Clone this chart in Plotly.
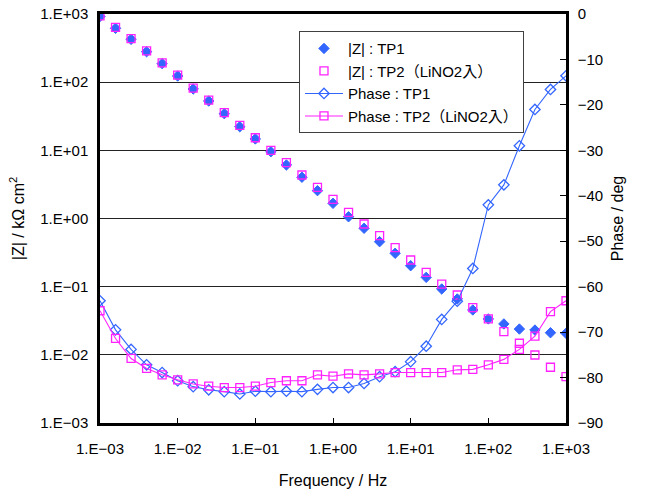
import plotly.graph_objects as go

# Measurement frequencies (Hz), 5 points per decade
freq = [0.001, 0.001585, 0.002512, 0.003981, 0.006310,
        0.01, 0.01585, 0.02512, 0.03981, 0.06310,
        0.1, 0.1585, 0.2512, 0.3981, 0.6310,
        1.0, 1.585, 2.512, 3.981, 6.310,
        10.0, 15.85, 25.12, 39.81, 63.10,
        100.0, 158.5, 251.2, 398.1, 631.0, 1000.0]

# Impedance modulus |Z| (kOhm cm2)
z_tp1 = [920, 617, 425, 280, 187, 123, 79.4, 52.9, 34.5, 22.2, 14.7, 9.55,
         6.10, 4.03, 2.56, 1.67, 1.06, 0.718, 0.457, 0.309, 0.203, 0.137,
         0.0925, 0.0660, 0.0455, 0.0336, 0.0284, 0.0239, 0.0231, 0.0211, 0.0207]
z_tp2 = [940, 635, 435, 287, 192, 127, 82.0, 54.5, 35.8, 23.2, 15.3, 10.0,
         6.59, 4.35, 2.87, 1.91, 1.23, 0.830, 0.560, 0.373, 0.246, 0.162,
         0.109, 0.0755, 0.0492, 0.0336, 0.0219, 0.0148, 0.00995, 0.00657, 0.00478]

# Phase angle (deg)
ph_tp1 = [-63.1, -69.5, -73.8, -77.2, -78.9, -80.7, -82.0, -82.7, -83.1, -83.6,
          -83.0, -83.1, -83.0, -83.1, -82.6, -82.2, -82.2, -81.3, -79.8, -78.7,
          -76.5, -73.1, -67.2, -63.2, -56.0, -42.0, -37.6, -29.0, -21.0, -16.6, -13.6]
ph_tp2 = [-65.3, -71.4, -75.8, -78.0, -79.4, -80.5, -81.4, -81.9, -82.2, -82.2,
          -81.9, -81.1, -80.7, -80.7, -79.4, -79.7, -79.2, -79.4, -79.2, -78.9,
          -78.9, -78.9, -78.9, -78.3, -78.2, -77.2, -76.0, -73.8, -70.9, -65.5, -63.1]

decade_vals = [0.001, 0.01, 0.1, 1, 10, 100, 1000]
decade_text = ["1.E\u221203", "1.E\u221202", "1.E\u221201", "1.E+00",
               "1.E+01", "1.E+02", "1.E+03"]

BLUE = "#3366ff"
MAGENTA = "#ff22ff"
LBL_FONT = "Liberation Sans, Arial, sans-serif"
LEG_FONT = "Liberation Sans, Noto Sans CJK JP, sans-serif"

fig = go.Figure()

fig.add_trace(go.Scatter(
    x=freq, y=z_tp1, mode="markers", name="|Z|\u00a0: TP1",
    marker=dict(symbol="diamond", size=8, color=BLUE,
                line=dict(color=BLUE, width=1)),
    yaxis="y"))
fig.add_trace(go.Scatter(
    x=freq, y=z_tp2, mode="markers", name="|Z|\u00a0: TP2\uff08LiNO2\u5165\uff09",
    marker=dict(symbol="square-open", size=8, color=MAGENTA,
                line=dict(color=MAGENTA, width=1.3)),
    yaxis="y"))
fig.add_trace(go.Scatter(
    x=freq, y=ph_tp1, mode="lines+markers", name="Phase\u00a0: TP1",
    line=dict(color=BLUE, width=1.1),
    marker=dict(symbol="diamond-open", size=8, color=BLUE,
                line=dict(color=BLUE, width=1.3)),
    yaxis="y2"))
fig.add_trace(go.Scatter(
    x=freq, y=ph_tp2, mode="lines+markers", name="Phase\u00a0: TP2\uff08LiNO2\u5165\uff09",
    line=dict(color=MAGENTA, width=1.1),
    marker=dict(symbol="square-open", size=8, color=MAGENTA,
                line=dict(color=MAGENTA, width=1.3)),
    yaxis="y2"))

fig.update_layout(
    width=647, height=490,
    margin=dict(l=100, r=81, t=14, b=67, autoexpand=False),
    paper_bgcolor="white", plot_bgcolor="white",
    font=dict(family=LBL_FONT, size=15, color="black"),
    showlegend=True,
    legend=dict(x=0.427, y=0.958, xanchor="left", yanchor="top",
                bgcolor="white", bordercolor="#404040", borderwidth=1,
                font=dict(family=LEG_FONT, size=15),
                tracegroupgap=0, itemwidth=38),
    xaxis=dict(type="log", range=[-3, 3], automargin=False,
               tickvals=decade_vals, ticktext=decade_text,
               ticks="inside", ticklen=5, tickcolor="black", tickwidth=1,
               ticklabelstandoff=10,
               showgrid=False, zeroline=False,
               showline=True, linecolor="black", linewidth=2.5, mirror=True,
               title=dict(text="Frequency / Hz", font=dict(size=16), standoff=20)),
    yaxis=dict(type="log", range=[-3, 3], automargin=False,
               tickvals=decade_vals, ticktext=decade_text,
               ticks="", showgrid=True, gridcolor="#222222", gridwidth=1.3,
               zeroline=False, ticklabelstandoff=6,
               showline=True, linecolor="black", linewidth=2.5,
               title=dict(text="|Z| / k\u03a9 cm<sup>2</sup>", font=dict(size=16),
                          standoff=12)),
    yaxis2=dict(overlaying="y", side="right", range=[-90, 0], dtick=10,
                tick0=0, ticks="inside", ticklen=6, tickcolor="black",
                automargin=False,
                showgrid=False, zeroline=False, ticklabelstandoff=6,
                showline=True, linecolor="black", linewidth=2.5,
                title=dict(text="Phase / deg", font=dict(size=16), standoff=10)),
)

fig.write_html("out.html")
